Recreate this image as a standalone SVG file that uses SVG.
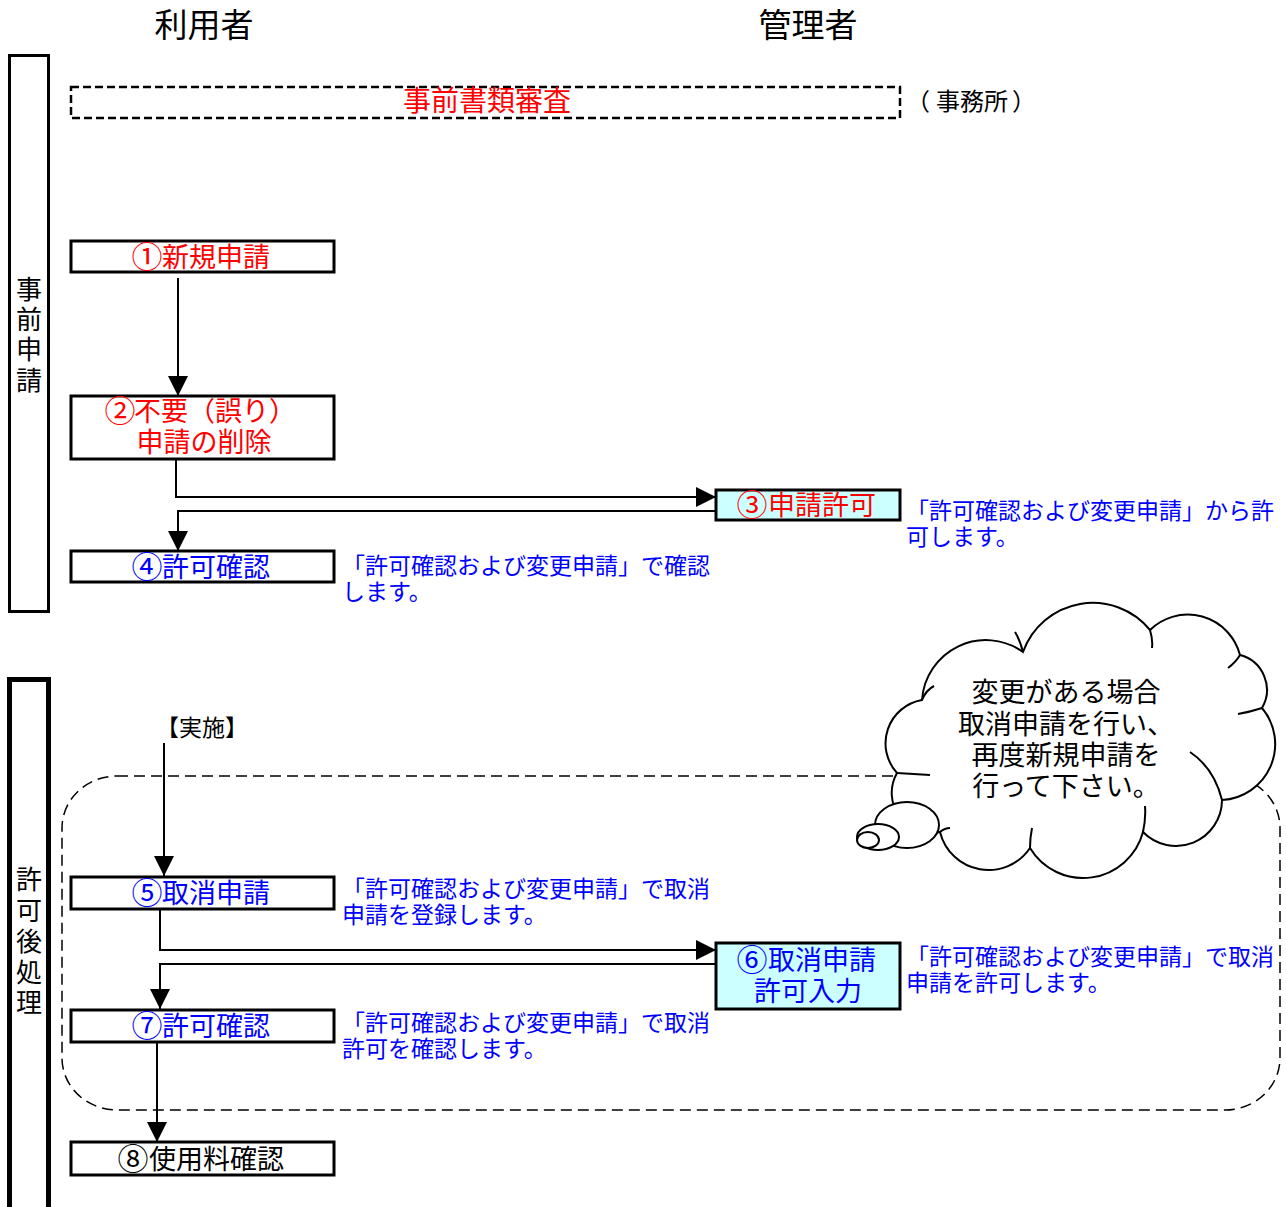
<svg xmlns="http://www.w3.org/2000/svg" width="1286" height="1207" viewBox="0 0 1286 1207">
<style>
text{font-family:"Noto Sans CJK JP","Noto Sans",sans-serif;}
.box{fill:#fff;stroke:#000;stroke-width:3;}
.hl{fill:#ccffff;stroke:#000;stroke-width:3;}
.lane{fill:none;stroke:#000;}
.red,.blue,.blk{font-size:27px;}
.c{text-anchor:middle;}
.d{font-size:31px;text-anchor:middle;}
.red{fill:#ff0000;}
.blue{fill:#0000ff;}
.blk{fill:#000;}
.note{fill:#0000ff;font-size:23px;}
.vt{fill:#000;font-size:26px;text-anchor:middle;}
.conn{fill:none;stroke:#000;stroke-width:2;}
.cloud{fill:#fff;stroke:#000;stroke-width:2;}
.ct{font-size:27px;text-anchor:middle;fill:#000;}
</style>
<defs>
<marker id="ah" markerUnits="userSpaceOnUse" markerWidth="20" markerHeight="20" viewBox="0 0 20 20" refX="20" refY="10" orient="auto">
<path d="M0,0 L20,10 L0,20 Z" fill="#000"/>
</marker>
</defs>

<g id="headers">
<text x="204" y="37" style="font-size:33px;text-anchor:middle;fill:#000">利用者</text>
<text x="808" y="37" style="font-size:33px;text-anchor:middle;fill:#000">管理者</text>
</g>

<g id="lane1">
<rect class="lane" x="9.5" y="55.5" width="39" height="556" stroke-width="3"/>
<text class="vt" x="29"><tspan x="29" y="299">事</tspan><tspan x="29" y="329">前</tspan><tspan x="29" y="359">申</tspan><tspan x="29" y="390">請</tspan></text>
</g>
<g id="lane2">
<rect class="lane" x="9.5" y="679.5" width="39" height="540" stroke-width="5"/>
<text class="vt" x="29"><tspan x="29" y="889">許</tspan><tspan x="29" y="920">可</tspan><tspan x="29" y="951">後</tspan><tspan x="29" y="982">処</tspan><tspan x="29" y="1012">理</tspan></text>
</g>

<g id="prereview">
<rect x="71" y="87" width="829" height="31" fill="none" stroke="#000" stroke-width="2.5" stroke-dasharray="8,4"/>
<text x="487" y="111" style="font-size:28px;text-anchor:middle;fill:#ff0000">事前書類審査</text>
<text x="906" y="110" style="font-size:24px;fill:#000">（<tspan dx="6">事務所</tspan><tspan dx="4">）</tspan></text>
</g>

<g id="group-area">
<rect x="62" y="776" width="1218" height="334" rx="55" ry="52" fill="none" stroke="#000" stroke-width="1.5" stroke-dasharray="11,6"/>
</g>

<g id="connectors">
<line class="conn" x1="178" y1="278" x2="178" y2="396" marker-end="url(#ah)"/>
<polyline class="conn" points="176,459 176,497 716,497" marker-end="url(#ah)"/>
<polyline class="conn" points="716,511 178,511 178,551" marker-end="url(#ah)"/>
<line class="conn" x1="164" y1="743" x2="164" y2="876" marker-end="url(#ah)"/>
<polyline class="conn" points="160,909 160,950 716,950" marker-end="url(#ah)"/>
<polyline class="conn" points="716,964 160,964 160,1009" marker-end="url(#ah)"/>
<line class="conn" x1="157" y1="1042" x2="157" y2="1142" marker-end="url(#ah)"/>
</g>

<g id="n1">
<rect class="box" x="71" y="241" width="263" height="31"/>
<text class="red d" x="147" y="268">①</text>
<text class="red" x="162" y="267">新規申請</text>
</g>
<g id="n2">
<rect class="box" x="71" y="396" width="263" height="63"/>
<text class="red d" x="120" y="422">②</text>
<text class="red" x="134" y="421">不要（誤り）</text>
<text class="red c" x="204" y="452">申請の削除</text>
</g>
<g id="n3">
<rect class="hl" x="716" y="490" width="184" height="30"/>
<text class="red d" x="752" y="516">③</text>
<text class="red" x="768" y="515">申請許可</text>
<text class="note" x="906" y="519">「許可確認および変更申請」から許</text>
<text class="note" x="906" y="545">可します。</text>
</g>
<g id="n4">
<rect class="box" x="71" y="551" width="263" height="31"/>
<text class="blue d" x="147" y="578">④</text>
<text class="blue" x="162" y="577">許可確認</text>
<text class="note" x="342" y="574">「許可確認および変更申請」で確認</text>
<text class="note" x="342" y="600">します。</text>
</g>

<g id="jisshi">
<text x="156" y="736" style="font-size:23px;fill:#000">【実施】</text>
</g>

<g id="n5">
<rect class="box" x="71" y="877" width="263" height="32"/>
<text class="blue d" x="147" y="904">⑤</text>
<text class="blue" x="162" y="903">取消申請</text>
<text class="note" x="342" y="897">「許可確認および変更申請」で取消</text>
<text class="note" x="342" y="923">申請を登録します。</text>
</g>
<g id="n6">
<rect class="hl" x="716" y="943" width="184" height="66"/>
<text class="blue d" x="752" y="971">⑥</text>
<text class="blue" x="768" y="970">取消申請</text>
<text class="blue c" x="808" y="1001">許可入力</text>
<text class="note" x="906" y="965">「許可確認および変更申請」で取消</text>
<text class="note" x="906" y="991">申請を許可します。</text>
</g>
<g id="n7">
<rect class="box" x="71" y="1010" width="263" height="32"/>
<text class="blue d" x="147" y="1037">⑦</text>
<text class="blue" x="162" y="1036">許可確認</text>
<text class="note" x="342" y="1031">「許可確認および変更申請」で取消</text>
<text class="note" x="342" y="1057">許可を確認します。</text>
</g>
<g id="n8">
<rect class="box" x="71" y="1142" width="263" height="33"/>
<text class="blk d" x="133" y="1170">⑧</text>
<text class="blk" x="149" y="1169">使用料確認</text>
</g>

<g id="cloud">
<path class="cloud" d="M897,773 A44,44 0 0 1 922,700 A64,64 0 0 1 1023,652 A74,74 0 0 1 1150,630 A54,54 0 0 1 1240,655 A36,36 0 0 1 1262,708 A56,56 0 0 1 1222,800 A46,46 0 0 1 1143,832 A62,62 0 0 1 1030,848 A50,50 0 0 1 940,832 A40,40 0 0 1 897,773 Z"/>
<path d="M897,773 L930,775 M922,700 Q926,690 934,686 M1023,652 Q1020,640 1015,632 M1150,630 Q1153,640 1152,648 M1240,655 Q1236,662 1228,668 M1262,708 Q1250,712 1238,714 M1222,800 Q1214,768 1190,752 M1143,832 Q1146,818 1145,806 M1030,848 Q1030,838 1032,828 M940,832 Q945,828 950,828" fill="none" stroke="#000" stroke-width="2"/>
<ellipse cx="907" cy="825" rx="32" ry="23" class="cloud"/>
<ellipse cx="878" cy="837" rx="21" ry="13" class="cloud"/>
<ellipse cx="868" cy="840" rx="11" ry="8" class="cloud"/>
<text class="ct" x="1066" y="702">変更がある場合</text>
<text class="ct" x="1066" y="734">取消申請を行い、</text>
<text class="ct" x="1066" y="765">再度新規申請を</text>
<text class="ct" x="1066" y="796">行って下さい。</text>
</g>
</svg>
